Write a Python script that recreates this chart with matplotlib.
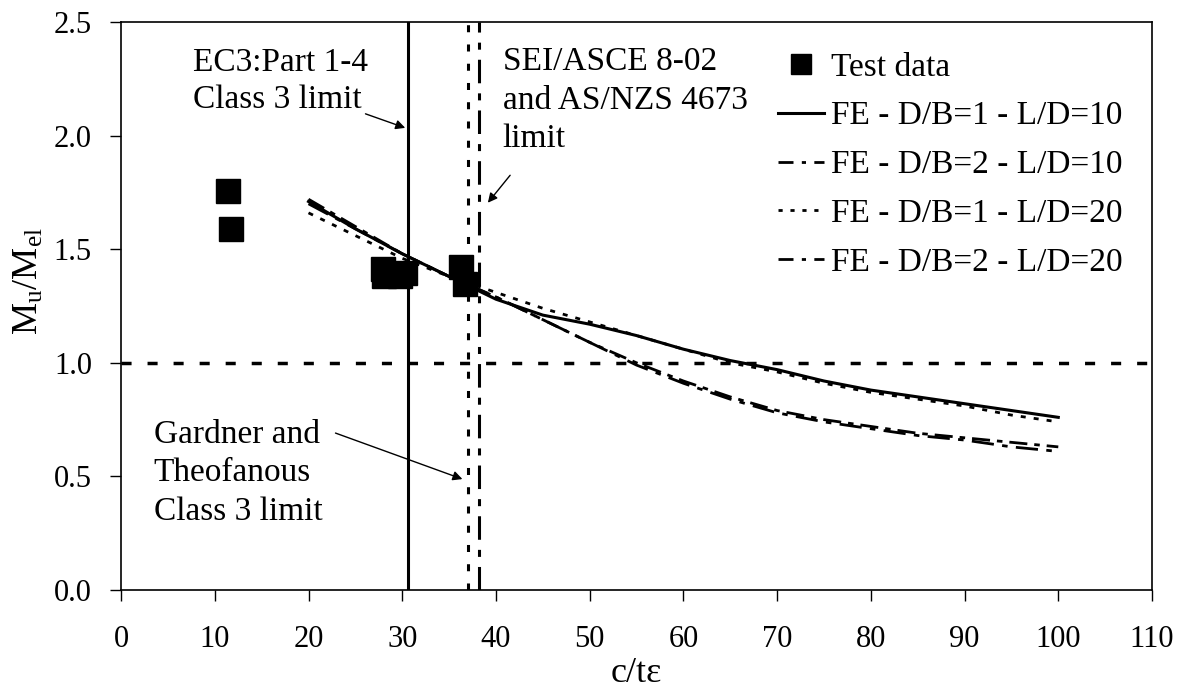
import numpy as np
import matplotlib.pyplot as plt
from matplotlib.lines import Line2D

plt.rcParams['font.family'] = ['Liberation Serif', 'DejaVu Serif']
plt.rcParams['mathtext.fontset'] = 'custom'
plt.rcParams['mathtext.rm'] = 'Liberation Serif'

# --- data ---
test_x = [11.4, 11.7, 27.9, 30.3, 28.1, 29.8, 36.3, 36.7]
test_y = [1.756, 1.589, 1.413, 1.395, 1.382, 1.382, 1.42, 1.347]

fe_x = [20, 25, 30, 35, 40, 45, 50, 55, 60, 65, 70, 75, 80, 85, 90, 95, 100]
fe_db1_ld10 = [1.71, 1.59, 1.48, 1.38, 1.28, 1.21, 1.17, 1.12, 1.06, 1.01, 0.97,
               0.92, 0.88, 0.85, 0.82, 0.79, 0.76]
fe_db2_ld10 = [1.72, 1.60, 1.48, 1.38, 1.29, 1.19, 1.09, 1.00, 0.92, 0.85, 0.79,
               0.75, 0.72, 0.69, 0.67, 0.65, 0.63]
fe_db1_ld20 = [1.66, 1.56, 1.46, 1.38, 1.31, 1.24, 1.18, 1.12, 1.06, 1.00, 0.96,
               0.91, 0.87, 0.84, 0.81, 0.77, 0.74]
fe_db2_ld20 = [1.70, 1.59, 1.48, 1.38, 1.29, 1.19, 1.09, 0.99, 0.91, 0.84, 0.78,
               0.74, 0.71, 0.68, 0.66, 0.63, 0.61]

ec3_limit = 30.6
gardner_limit = 37.0
sei_limit = 38.2
unity = 1.0

x_ticks = np.arange(0, 111, 10)
y_ticks = np.arange(0, 2.51, 0.5)

FS = 24        # legend / annotation text
FS_TICK = 22
FS_LABEL = 26

fig = plt.figure(figsize=(11.88, 6.97), dpi=100)
ax = fig.add_axes([0.1019, 0.1535, 0.8678, 0.8149])

# limit lines
ax.axvline(ec3_limit, color='black', lw=2.2, zorder=1)
ax.axvline(gardner_limit, color='black', lw=2.2, ls=(0, (2.3, 4.0)), zorder=1)
ax.axvline(sei_limit, color='black', lw=2.2, ls=(0, (7.7, 3.3, 2.3, 3.3)), zorder=1)
ax.axhline(unity, color='black', lw=2.5, ls=(0, (2.9, 4.6)), zorder=1)

# FE curves
ax.plot(fe_x, fe_db1_ld10, color='black', lw=2.2, zorder=2)
ax.plot(fe_x, fe_db2_ld10, color='black', lw=2.0, ls=(0, (6.5, 2.5, 2, 2.5)), zorder=2)
ax.plot(fe_x, fe_db1_ld20, color='black', lw=2.0, ls=(0, (1.8, 2.9)), zorder=2)
ax.plot(fe_x, fe_db2_ld20, color='black', lw=2.0, ls=(0, (8, 3, 2, 3)), zorder=2)

# test data
ax.plot(test_x, test_y, 's', color='black', ms=17, zorder=3, ls='none')

# annotations
arrow = dict(arrowstyle='-|>', color='black', lw=1.0, mutation_scale=14)
ax.text(7.7, 2.24, 'EC3:Part 1-4\nClass 3 limit', fontsize=FS, ha='left',
        va='center', linespacing=1.3)
ax.annotate('', xy=(30.6, 2.03), xytext=(25.8, 2.10), arrowprops=arrow)

ax.text(40.7, 2.155, 'SEI/ASCE 8-02\nand AS/NZS 4673\nlimit', fontsize=FS,
        ha='left', va='center', linespacing=1.35)
ax.annotate('', xy=(38.95, 1.695), xytext=(41.7, 1.835), arrowprops=arrow)

ax.text(3.5, 0.515, 'Gardner and\nTheofanous\nClass 3 limit', fontsize=FS,
        ha='left', va='center', linespacing=1.35)
ax.annotate('', xy=(36.7, 0.484), xytext=(22.6, 0.695), arrowprops=arrow)

# legend
handles = [
    Line2D([], [], marker='s', color='black', ls='none', ms=15),
    Line2D([], [], color='black', lw=2.2),
    Line2D([], [], color='black', lw=2.0, ls=(0, (5.4, 3, 1.5, 3))),
    Line2D([], [], color='black', lw=2.0, ls=(0, (1.5, 2.8))),
    Line2D([], [], color='black', lw=2.0, ls=(0, (5.4, 3, 1.5, 3))),
]
labels = ['Test data', 'FE - D/B=1 - L/D=10', 'FE - D/B=2 - L/D=10',
          'FE - D/B=1 - L/D=20', 'FE - D/B=2 - L/D=20']
ax.legend(handles, labels, loc='upper left', bbox_to_anchor=(0.637, 0.947),
          frameon=False, fontsize=FS, handlelength=1.4, handletextpad=0.2,
          labelspacing=0.55, borderpad=0, borderaxespad=0)

ax.set_xlim(0, 110)
ax.set_ylim(0, 2.5)
ax.set_xticks(x_ticks)
ax.set_yticks(y_ticks)
ax.set_yticklabels([f'{v:.1f}' for v in y_ticks])
ax.tick_params(direction='out', length=8, width=1.0, labelsize=FS_TICK)
ax.tick_params(axis='x', pad=17)
ax.tick_params(axis='y', pad=13)
for s in ax.spines.values():
    s.set_linewidth(1.2)

ax.set_xlabel('c/t\u03b5', fontsize=FS_LABEL, labelpad=2)
ax.set_ylabel(r'$\mathregular{M_u/M_{el}}$', fontsize=FS_LABEL)
ax.yaxis.set_label_coords(-0.073, 0.544)

fig.savefig('out.png', dpi=100)
